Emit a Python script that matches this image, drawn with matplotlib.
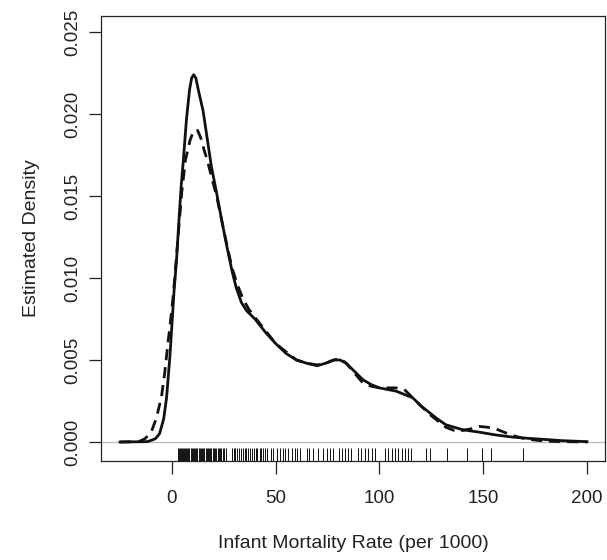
import matplotlib
matplotlib.use("Agg")
import matplotlib.pyplot as plt
import matplotlib.transforms as mtransforms

plt.rcParams['font.family'] = ['Liberation Sans', 'DejaVu Sans']

# Solid density curve (x, density)
solid_x = [-25, -12, -10, -8, -6, -4, -2.6, -1, 0, 1, 2.2, 3.5, 4.5, 5.5, 7, 8.5,
           9.5, 10.5, 11.5, 13, 15, 17, 19, 21.5, 24, 26.5, 29, 31, 33.5, 36, 40,
           45, 50, 55, 60, 65, 70, 74, 78, 81, 84, 88, 92, 96, 100, 104, 108, 112,
           116, 120, 124, 128, 132, 136, 140, 148, 156, 164, 172, 180, 188, 200]
solid_y = [0, 0.00002, 0.0001, 0.0002, 0.0005, 0.0014, 0.0027, 0.0052, 0.0072,
           0.0092, 0.0111, 0.0138, 0.0157, 0.0172, 0.0197, 0.0215, 0.0222, 0.0224,
           0.0222, 0.0213, 0.0202, 0.0185, 0.0168, 0.0152, 0.0135, 0.0119, 0.0104,
           0.0094, 0.0085, 0.0080, 0.0075, 0.0067, 0.0060, 0.0054, 0.0050, 0.0048,
           0.00465, 0.0048, 0.0050, 0.0050, 0.0048, 0.0043, 0.0038, 0.0035, 0.0033,
           0.0032, 0.0031, 0.0029, 0.0027, 0.0022, 0.0018, 0.0014, 0.00105, 0.0009,
           0.00075, 0.0006, 0.00043, 0.0003, 0.00022, 0.00015, 0.00008, 0.00002]

# Dashed density curve (x, density)
dashed_x = [-25, -16, -13, -10, -7.4, -5, -3.5, -1.8, -1, 0.5, 1.4, 3, 4.7, 6.5,
            8.7, 10.5, 12.4, 14, 15.5, 17, 19, 21.5, 24, 26.5, 29, 31.5, 34, 37,
            40, 45, 50, 55, 60, 65, 70, 74, 78, 81, 84, 88, 92, 96, 100, 104, 108,
            112, 116, 120, 124, 128, 132, 136, 140, 144, 148, 152, 156, 160, 164,
            170, 176, 182, 190, 200]
dashed_y = [0, 0.00002, 0.0002, 0.0006, 0.0015, 0.0028, 0.0042, 0.0062, 0.0070,
            0.0088, 0.0101, 0.0126, 0.0152, 0.0172, 0.0184, 0.0190, 0.0190, 0.0185,
            0.0178, 0.0172, 0.0162, 0.0150, 0.0135, 0.0120, 0.0106, 0.0096, 0.0088,
            0.0081, 0.0076, 0.0068, 0.0060, 0.0055, 0.0050, 0.0048, 0.0047, 0.0048,
            0.0050, 0.0051, 0.0048, 0.0042, 0.0036, 0.0034, 0.0033, 0.0033, 0.0033,
            0.0032, 0.0027, 0.0022, 0.0017, 0.0013, 0.0009, 0.0007, 0.0007, 0.0008,
            0.00095, 0.0009, 0.0008, 0.0006, 0.0004, 0.0002, 0.0001, 0.00004,
            0.00002, 0.0]

# Observed infant mortality rates (rug)
rug_values = [3, 3.5, 4, 4.5, 5, 5.3, 5.8, 6.2, 6.8, 7.3, 7.9, 8.4, 9, 9.5, 10,
              10.6, 11.2, 11.7, 12.3, 12.8, 13.4, 14, 14.5, 15.1, 15.6, 16.2, 16.8,
              17.3, 17.9, 18.5, 19, 19.6, 20.2, 20.7, 21.3, 22, 22.6, 23.2, 23.8,
              24.5, 25.2, 26, 29, 29.8, 30.6, 31.5, 32.3, 33.2, 34, 35, 35.8, 36.7,
              37.5, 38.5, 39.4, 40.3, 41.2, 42.2, 43, 44, 45, 46, 47.5, 48.5, 50.4,
              52, 53.3, 54.6, 56, 57.7, 59.3, 60.4, 61.7, 65.2, 66.2, 68.1, 70.5,
              72.9, 74.5, 76.1, 77.4, 80.6, 81.8, 83.4, 85, 86.1, 89.5, 90.9, 93,
              94.6, 96.2, 97.8, 102.7, 104.3, 105.9, 107.5, 109.1, 110.7, 112.3,
              113.9, 115.2, 122.4, 124.3, 132.5, 142.2, 149.4, 153.7, 169.2]

x_ticks = [0, 50, 100, 150, 200]
y_ticks = [0.000, 0.005, 0.010, 0.015, 0.020, 0.025]
y_tick_labels = ["0.000", "0.005", "0.010", "0.015", "0.020", "0.025"]

fig = plt.figure(figsize=(6.07, 5.60), dpi=100)
ax = fig.add_axes([101 / 607, 99 / 560, 504 / 607, 445 / 560])

ax.axhline(0, color='#bdbdbd', lw=1.0, zorder=1)
ax.plot(solid_x, solid_y, color='#111111', lw=2.0, solid_joinstyle='round', zorder=3)
ax.plot(dashed_x, dashed_y, color='#111111', lw=2.0, linestyle=(0, (4, 2.5)),
        dash_capstyle='butt', zorder=3)

trans = mtransforms.blended_transform_factory(ax.transData, ax.transAxes)
ax.vlines(rug_values, 0, 0.03, transform=trans, color='#111111', lw=0.7, zorder=2)

ax.set_xlim(-34.2, 208.7)
ax.set_ylim(-0.00116, 0.02598)

ax.set_xticks(x_ticks)
ax.set_xticklabels([str(v) for v in x_ticks])
ax.set_yticks(y_ticks)
ax.set_yticklabels(y_tick_labels, rotation=90, va='center')

ax.tick_params(axis='both', direction='out', length=9, width=0.9, color='#222222',
               labelsize=13.5, labelcolor='#222222')
ax.tick_params(axis='x', pad=12)
ax.tick_params(axis='y', pad=5)

for s in ax.spines.values():
    s.set_linewidth(0.9)
    s.set_color('#222222')

ax.set_xlabel("Infant Mortality Rate (per 1000)", fontsize=14, color='#222222', labelpad=20)
ax.set_ylabel("Estimated Density", fontsize=14, color='#222222', labelpad=18)

fig.savefig("out.png", dpi=100)
